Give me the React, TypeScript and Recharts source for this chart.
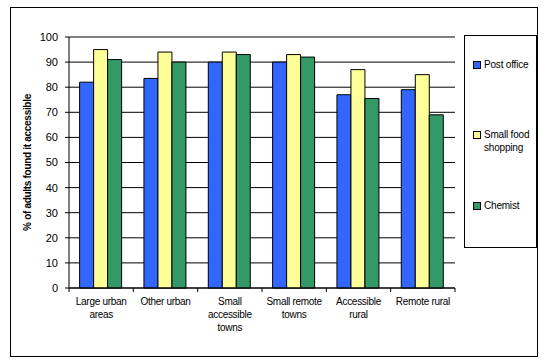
import { BarChart, Bar, XAxis, YAxis, CartesianGrid } from "recharts";

const categories = [
  "Large urban\nareas",
  "Other urban",
  "Small\naccessible\ntowns",
  "Small remote\ntowns",
  "Accessible\nrural",
  "Remote rural",
];
const postOffice = [82, 83.5, 90, 90, 77, 79];
const smallFood = [95, 94, 94, 93, 87, 85];
const chemist = [91, 90, 93, 92, 75.5, 69];
const yTicks = [0, 10, 20, 30, 40, 50, 60, 70, 80, 90, 100];

const series = [
  { key: "post", name: "Post office", color: "#3366FF" },
  { key: "food", name: "Small food\nshopping", color: "#FFFF99" },
  { key: "chem", name: "Chemist", color: "#339966" },
];

const data = categories.map((c, i) => ({
  name: c,
  post: postOffice[i],
  food: smallFood[i],
  chem: chemist[i],
}));

const font = "Arial, 'Liberation Sans', sans-serif";

function CategoryTick(props: any) {
  const { x, y, payload, index } = props;
  const half = payload.offset ?? 32;
  const lines = String(payload.value).split("\n");
  return (
    <g>
      <line x1={x - half} y1={y - 8} x2={x - half} y2={y - 4} stroke="#000" />
      {index === categories.length - 1 && (
        <line x1={x + half} y1={y - 8} x2={x + half} y2={y - 4} stroke="#000" />
      )}
      <text x={x} y={y + 9} textAnchor="middle" fontSize={10} fontFamily={font} letterSpacing={-0.3} fill="#000">
        {lines.map((l, i) => (
          <tspan key={i} x={x} dy={i === 0 ? 0 : 13}>
            {l}
          </tspan>
        ))}
      </text>
    </g>
  );
}

export default function App() {
  return (
    <div style={{ position: "absolute", left: 0, top: 0, width: 547, height: 364, background: "#fff" }}>
      <div
        style={{
          position: "absolute",
          left: 10,
          top: 7,
          width: 526,
          height: 348,
          border: "1px solid #000",
        }}
      />
      <div style={{ position: "absolute", left: 0, top: 0 }}>
        <BarChart
          width={547}
          height={364}
          data={data}
          margin={{ top: 37, right: 92, bottom: 36, left: 29 }}
          barCategoryGap="16.5%"
          barGap={0}
        >
          <CartesianGrid vertical={false} stroke="#000" strokeWidth={1} />
          <XAxis
            dataKey="name"
            height={40}
            tickLine={false}
            axisLine={{ stroke: "#000" }}
            interval={0}
            tick={<CategoryTick />}
          />
          <YAxis
            width={40}
            domain={[0, 100]}
            ticks={yTicks}
            tickSize={4}
            tickMargin={7}
            axisLine={{ stroke: "#000" }}
            tickLine={{ stroke: "#000" }}
            tick={{ fill: "#000", fontSize: 11, fontFamily: font }}
            label={{
              value: "% of adults found it accessible",
              angle: -90,
              position: "center",
              dx: -22,
              fill: "#000",
              fontSize: 10,
              fontWeight: "bold",
              fontFamily: font,
              letterSpacing: -0.3,
            }}
          />
          {series.map((s) => (
            <Bar
              key={s.key}
              dataKey={s.key}
              name={s.name}
              fill={s.color}
              stroke="#000"
              strokeWidth={1}
              isAnimationActive={false}
            />
          ))}
        </BarChart>
      </div>
      <div
        style={{
          position: "absolute",
          left: 464,
          top: 35,
          width: 71,
          height: 211,
          border: "1px solid #000",
          background: "#fff",
          fontFamily: font,
          fontSize: 10,
          color: "#000",
        }}
      >
        {series.map((s, i) => {
          const centers = [29, 99, 170];
          const lines = s.name.split("\n");
          return (
            <div
              key={s.key}
              style={{ position: "absolute", left: 8, top: centers[i] - 6, display: "flex", alignItems: "flex-start" }}
            >
              <div
                style={{
                  width: 6,
                  height: 6,
                  background: s.color,
                  border: "1px solid #000",
                  marginTop: 2,
                  marginRight: 3,
                }}
              />
              <div style={{ lineHeight: "13px", marginTop: -1, letterSpacing: -0.2 }}>
                {lines.map((l, j) => (
                  <div key={j}>{l}</div>
                ))}
              </div>
            </div>
          );
        })}
      </div>
    </div>
  );
}
